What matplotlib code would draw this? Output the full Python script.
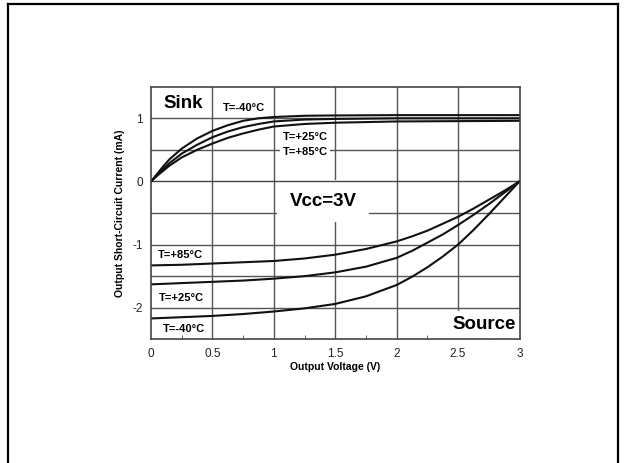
import matplotlib
matplotlib.use("Agg")
import matplotlib.pyplot as plt
from matplotlib.lines import Line2D
from matplotlib.ticker import MultipleLocator

plt.rcParams['font.family'] = ['Liberation Sans', 'DejaVu Sans']

# sink current (mA) vs output voltage (V)
v_sink = [0, 0.05, 0.1, 0.15, 0.25, 0.375, 0.5, 0.625, 0.75, 0.875, 1.0, 1.25, 1.5, 2.0, 3.0]
sink_m40 = [0, 0.12, 0.24, 0.35, 0.52, 0.68, 0.80, 0.89, 0.96, 1.00, 1.02, 1.04, 1.045, 1.05, 1.05]
sink_p25 = [0, 0.10, 0.20, 0.29, 0.44, 0.58, 0.70, 0.79, 0.86, 0.91, 0.95, 0.98, 0.99, 1.00, 1.00]
sink_p85 = [0, 0.09, 0.17, 0.25, 0.38, 0.50, 0.60, 0.69, 0.76, 0.82, 0.87, 0.91, 0.93, 0.95, 0.96]

# source current (mA) vs output voltage (V)
v_src = [0, 0.25, 0.5, 0.75, 1.0, 1.25, 1.5, 1.75, 2.0, 2.125, 2.25, 2.375, 2.5, 2.625, 2.75, 2.875, 3.0]
src_p85 = [-1.33, -1.32, -1.30, -1.28, -1.26, -1.22, -1.16, -1.07, -0.95, -0.87, -0.78, -0.67,
           -0.56, -0.43, -0.29, -0.15, 0]
src_p25 = [-1.63, -1.61, -1.59, -1.57, -1.54, -1.50, -1.44, -1.35, -1.21, -1.10, -0.97, -0.84,
           -0.69, -0.53, -0.36, -0.18, 0]
src_m40 = [-2.17, -2.15, -2.13, -2.10, -2.06, -2.01, -1.94, -1.82, -1.64, -1.51, -1.36, -1.19,
           -1.00, -0.77, -0.52, -0.26, 0]

x_ticks = [0, 0.5, 1, 1.5, 2, 2.5, 3]
x_ticklabels = ['0', '0.5', '1', '1.5', '2', '2.5', '3']
y_ticks = [-2, -1, 0, 1]
y_ticklabels = ['-2', '-1', '0', '1']

fig = plt.figure(figsize=(6.25, 4.63), dpi=100)
ax = fig.add_axes([0.2416, 0.2672, 0.5896, 0.5455])

# grid
for gx in [0.5, 1, 1.5, 2, 2.5]:
    ax.axvline(gx, color='#555555', lw=1.0, zorder=1)
for gy in [1, 0.5, -0.5, -1, -1.5, -2]:
    ax.axhline(gy, color='#555555', lw=1.0, zorder=1)

for y in (sink_m40, sink_p25, sink_p85):
    ax.plot(v_sink, y, color='#111111', lw=1.5, zorder=4, solid_joinstyle='round')
for y in (src_p85, src_p25, src_m40):
    ax.plot(v_src, y, color='#111111', lw=1.5, zorder=4, solid_joinstyle='round')

ax.set_xlim(0, 3)
ax.set_ylim(-2.5, 1.5)
ax.set_xticks(x_ticks)
ax.set_xticklabels(x_ticklabels)
ax.set_yticks(y_ticks)
ax.set_yticklabels(y_ticklabels)
ax.xaxis.set_minor_locator(MultipleLocator(0.25))
ax.tick_params(axis='both', which='major', length=0, labelsize=8.5, colors='#222222', pad=6)
ax.tick_params(axis='x', which='minor', direction='in', length=3, color='#444444')
for s in ax.spines.values():
    s.set_color('#444444')
    s.set_linewidth(1.2)
    s.set_zorder(6)

ax.set_xlabel('Output Voltage (V)', fontsize=7.5, fontweight='bold', labelpad=2)
ax.set_ylabel('Output Short-Circuit Current (mA)', fontsize=7.5, fontweight='bold', labelpad=5)

# annotations
white = dict(facecolor='white', edgecolor='none', pad=2)
ax.text(0.26, 1.23, 'Sink', fontsize=13.5, fontweight='bold', ha='center', va='center', zorder=5)
ax.text(2.715, -2.27, 'Source', fontsize=13.5, fontweight='bold', ha='center', va='center',
        bbox=dict(facecolor='white', edgecolor='none', pad=4), zorder=5)
ax.text(1.40, -0.31, 'Vcc=3V', fontsize=13.5, fontweight='bold', ha='center', va='center',
        bbox=dict(facecolor='white', edgecolor='none', pad=9), zorder=3)
ax.axhline(0, color='#444444', lw=1.0, zorder=3.5)

ax.text(0.758, 1.17, 'T=-40°C', fontsize=8, fontweight='bold', ha='center', va='center', zorder=5)
ax.text(1.255, 0.70, 'T=+25°C', fontsize=8, fontweight='bold', ha='center', va='center', bbox=white, zorder=5)
ax.text(1.255, 0.46, 'T=+85°C', fontsize=8, fontweight='bold', ha='center', va='center', bbox=white, zorder=5)
ax.text(0.236, -1.17, 'T=+85°C', fontsize=8, fontweight='bold', ha='center', va='center', zorder=5)
ax.text(0.249, -1.84, 'T=+25°C', fontsize=8, fontweight='bold', ha='center', va='center', zorder=5)
ax.text(0.265, -2.33, 'T=-40°C', fontsize=8, fontweight='bold', ha='center', va='center', zorder=5)

# page frame
W, H = 625, 463
fig.add_artist(Line2D([7.5 / W, 617.7 / W], [1 - 4 / H, 1 - 4 / H], color='black', lw=1.6))
fig.add_artist(Line2D([7.5 / W, 7.5 / W], [0, 1 - 4 / H], color='black', lw=1.6))
fig.add_artist(Line2D([617.7 / W, 617.7 / W], [0, 1 - 4 / H], color='black', lw=1.6))

fig.savefig('out.png', dpi=100)
